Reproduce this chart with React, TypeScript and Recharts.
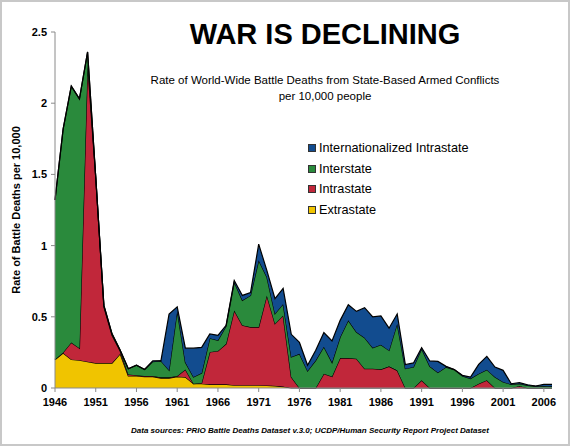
import { AreaChart, Area, XAxis, YAxis } from "recharts";

const years = [
  1946, 1947, 1948, 1949, 1950, 1951, 1952, 1953, 1954, 1955, 1956, 1957, 1958, 1959, 1960,
  1961, 1962, 1963, 1964, 1965, 1966, 1967, 1968, 1969, 1970, 1971, 1972, 1973, 1974, 1975,
  1976, 1977, 1978, 1979, 1980, 1981, 1982, 1983, 1984, 1985, 1986, 1987, 1988, 1989, 1990,
  1991, 1992, 1993, 1994, 1995, 1996, 1997, 1998, 1999, 2000, 2001, 2002, 2003, 2004, 2005,
  2006, 2007,
];

const extrastate = [
  0.2, 0.245, 0.2, 0.195, 0.185, 0.175, 0.175, 0.175, 0.24, 0.085, 0.085, 0.08, 0.08, 0.07, 0.07,
  0.08, 0.077, 0.03, 0.03, 0.026, 0.026, 0.026, 0.02, 0.02, 0.02, 0.02, 0.018, 0.015, 0.01, 0,
  0, 0, 0, 0, 0, 0, 0, 0, 0, 0, 0, 0, 0, 0, 0,
  0, 0, 0, 0, 0, 0, 0, 0, 0, 0, 0, 0, 0, 0, 0,
  0, 0,
];

const intrastate = [
  0, 0.005, 0.12, 0.085, 2.095, 1.305, 0.395, 0.195, 0.02, 0.01, 0.005, 0.005, 0.005, 0.005, 0.005,
  0.005, 0.053, 0, 0.005, 0.227, 0.234, 0.284, 0.525, 0.42, 0.408, 0.408, 0.632, 0.437, 0.5, 0.077,
  0, 0, 0, 0.1, 0.08, 0.21, 0.21, 0.206, 0.136, 0.136, 0.131, 0.152, 0.124, 0, 0,
  0.054, 0, 0, 0, 0, 0, 0, 0.03, 0.054, 0, 0, 0, 0.014, 0, 0,
  0, 0,
];

const interstate = [
  1.12, 1.57, 1.8, 1.75, 0.08, 0, 0.01, 0.01, 0.005, 0.04, 0.07, 0.045, 0.1, 0.115, 0.05,
  0.46, 0.05, 0.047, 0.07, 0.097, 0.075, 0.125, 0.199, 0.176, 0.222, 0.469, 0.13, 0.07, 0.08, 0.141,
  0.24, 0.12, 0.194, 0.19, 0.1, 0.148, 0.265, 0.187, 0.217, 0.147, 0.173, 0.112, 0.328, 0.136, 0.147,
  0.222, 0.152, 0.108, 0.147, 0.129, 0.084, 0.066, 0.07, 0.075, 0.077, 0.042, 0.026, 0.016, 0.019, 0.012,
  0.014, 0.012,
];

const internationalized = [
  0, 0, 0, 0, 0, 0, 0, 0, 0, 0, 0, 0, 0.005, 0, 0.395,
  0.025, 0.1, 0.203, 0.18, 0.03, 0.035, 0.005, 0.011, 0.034, 0.02, 0.113, 0.046, 0.105, 0.11, 0.159,
  0.08, 0.04, 0.071, 0.1, 0.15, 0.117, 0.11, 0.145, 0.211, 0.217, 0.202, 0.156, 0.068, 0.028, 0.029,
  0.007, 0.038, 0.079, 0.005, 0, 0.005, 0.011, 0.066, 0.093, 0.07, 0.082, 0.004, 0.007, 0.004, 0.002,
  0.012, 0.014,
];

const xTicks = [1946, 1951, 1956, 1961, 1966, 1971, 1976, 1981, 1986, 1991, 1996, 2001, 2006];
const yTicks = [0, 0.5, 1, 1.5, 2, 2.5];

const legendItems = [
  { name: "Internationalized Intrastate", color: "#124c8f" },
  { name: "Interstate", color: "#2a8a3c" },
  { name: "Intrastate", color: "#c1273a" },
  { name: "Extrastate", color: "#f0c400" },
];

const FONT = "'Liberation Sans', Arial, sans-serif";

const data = years.map((year, i) => ({
  year,
  extrastate: extrastate[i],
  intrastate: intrastate[i],
  interstate: interstate[i],
  internationalized: internationalized[i],
}));

function LegendBox() {
  return (
    <div style={{ position: "absolute", left: 306, top: 136, fontSize: 12.7, color: "#000" }}>
      {legendItems.map(item => (
        <div key={item.name} style={{ display: "flex", alignItems: "center", height: 20.5 }}>
          <span
            style={{
              display: "inline-block",
              width: 6,
              height: 6,
              background: item.color,
              border: "1px solid #333",
              marginRight: 3,
            }}
          />
          {item.name}
        </div>
      ))}
    </div>
  );
}

export default function App() {
  return (
    <div
      style={{
        position: "absolute",
        left: 0,
        top: 0,
        width: 570,
        height: 446,
        background: "#fff",
        fontFamily: FONT,
        boxSizing: "border-box",
        border: "2px solid #c8c8c8",
      }}
    >
      <div style={{ position: "absolute", left: 0, top: 0 }}>
        <AreaChart
          width={566}
          height={442}
          data={data}
          margin={{ top: 30, right: 16, bottom: 36, left: 21 }}
        >
          <XAxis
            dataKey="year"
            type="number"
            domain={[1946, 2007]}
            ticks={xTicks}
            interval={0}
            tick={{ fontSize: 11, fontWeight: "bold", fill: "#000", fontFamily: FONT }}
            tickSize={4}
            tickMargin={6}
            stroke="#8a8a8a"
            height={20}
          />
          <YAxis
            domain={[0, 2.5]}
            ticks={yTicks}
            interval={0}
            width={32}
            tick={{ fontSize: 11, fontWeight: "bold", fill: "#000", fontFamily: FONT }}
            tickSize={4}
            tickMargin={4}
            stroke="#8a8a8a"
            label={{
              value: "Rate of Battle Deaths per 10,000",
              angle: -90,
              position: "insideLeft",
              offset: -7,
              style: { fontSize: 11, fontWeight: "bold", fill: "#000", fontFamily: FONT, textAnchor: "middle" },
            }}
          />
          <Area
            type="linear"
            dataKey="extrastate"
            name="Extrastate"
            stackId="a"
            stroke="#000"
            strokeWidth={1.2}
            fill="#f0c400"
            fillOpacity={1}
            isAnimationActive={false}
          />
          <Area
            type="linear"
            dataKey="intrastate"
            name="Intrastate"
            stackId="a"
            stroke="#000"
            strokeWidth={1.2}
            fill="#c1273a"
            fillOpacity={1}
            isAnimationActive={false}
          />
          <Area
            type="linear"
            dataKey="interstate"
            name="Interstate"
            stackId="a"
            stroke="#000"
            strokeWidth={1.2}
            fill="#2a8a3c"
            fillOpacity={1}
            isAnimationActive={false}
          />
          <Area
            type="linear"
            dataKey="internationalized"
            name="Internationalized Intrastate"
            stackId="a"
            stroke="#000"
            strokeWidth={1.2}
            fill="#124c8f"
            fillOpacity={1}
            isAnimationActive={false}
          />
        </AreaChart>
      </div>
      <LegendBox />
      <div
        style={{
          position: "absolute",
          left: 0,
          width: 646,
          top: 15,
          textAlign: "center",
          fontSize: 29,
          fontWeight: "bold",
          lineHeight: "34px",
        }}
      >
        WAR IS DECLINING
      </div>
      <div
        style={{
          position: "absolute",
          left: 0,
          width: 646,
          top: 70,
          textAlign: "center",
          fontSize: 11.5,
          lineHeight: "16px",
        }}
      >
        Rate of World-Wide Battle Deaths from State-Based Armed Conflicts
        <br />
        per 10,000 people
      </div>
      <div
        style={{
          position: "absolute",
          left: 0,
          width: 616,
          top: 424,
          textAlign: "center",
          fontSize: 8,
          fontWeight: "bold",
          fontStyle: "italic",
        }}
      >
        Data sources: PRIO Battle Deaths Dataset v.3.0; UCDP/Human Security Report Project Dataset
      </div>
    </div>
  );
}
